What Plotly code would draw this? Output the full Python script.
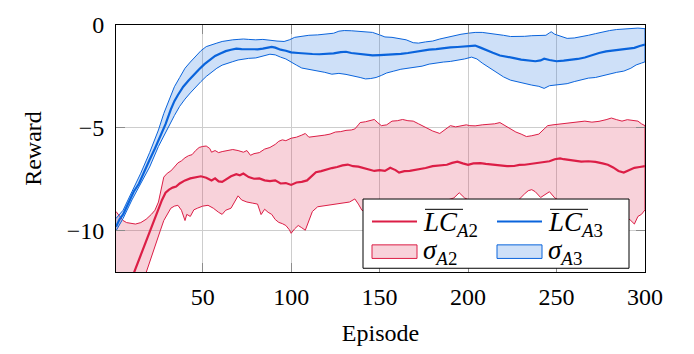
import plotly.graph_objects as go

# ---------------- data ----------------
a2_mean_x = [1,5,9,12,15,18,21,24,27,29,31,33,35,37,40,43,46,49,52,55,57,59,61,63,66,69,71,73,76,79,82,85,88,91,94,97,100,103,106,109,112,114,117,120,123,126,129,132,135,138,141,144,147,150,153,156,159,161,164,167,170,173,176,180,184,188,191,194,197,200,203,207,210,214,218,222,226,229,232,236,240,243,246,249,252,254,257,260,264,268,272,276,279,282,285,288,291,294,297,300]
a2_mean_y = [-14.3,-13.4,-12.5,-11.8,-11.1,-10.5,-9.8,-9.1,-8.5,-8.15,-8.0,-7.9,-7.85,-7.7,-7.55,-7.45,-7.4,-7.35,-7.42,-7.55,-7.45,-7.6,-7.62,-7.5,-7.35,-7.25,-7.3,-7.22,-7.39,-7.47,-7.45,-7.55,-7.58,-7.55,-7.7,-7.68,-7.77,-7.65,-7.62,-7.55,-7.3,-7.15,-7.1,-7.02,-6.95,-6.9,-6.82,-6.78,-6.86,-6.88,-6.94,-7.0,-7.09,-7.05,-7.09,-6.94,-7.05,-7.17,-7.1,-7.09,-7.05,-7.02,-6.95,-6.86,-6.82,-6.79,-6.7,-6.64,-6.72,-6.79,-6.72,-6.71,-6.75,-6.79,-6.82,-6.86,-6.85,-6.8,-6.79,-6.75,-6.71,-6.68,-6.62,-6.52,-6.48,-6.52,-6.56,-6.6,-6.64,-6.62,-6.65,-6.72,-6.79,-6.92,-7.09,-7.17,-7.05,-6.94,-6.9,-6.86]

a2_up_x = [1,3,5,7,9,12,15,18,21,23,25,26,27,28,30,32,34,36,38,40,42,44,46,48,50,52,54,55,57,59,61,64,67,70,73,75,77,79,82,85,88,91,93,95,97,100,103,106,108,110,113,116,119,122,125,128,131,134,136,138,139,142,144,147,149,151,154,157,160,163,166,169,172,176,180,184,187,190,193,196,199,201,204,208,212,215,218,221,224,227,230,233,236,240,243,245,248,251,255,259,263,266,270,274,278,281,284,287,290,293,296,298,300]
a2_up_y = [-9.06,-9.3,-9.5,-9.6,-9.62,-9.67,-9.6,-9.44,-9.2,-9.0,-8.6,-8.15,-7.7,-7.39,-7.2,-7.09,-6.9,-6.7,-6.6,-6.45,-6.35,-6.3,-6.1,-5.95,-5.9,-5.88,-6.0,-6.18,-6.1,-6.2,-6.15,-6.1,-6.05,-6.1,-6.18,-6.1,-6.33,-6.25,-6.2,-6.03,-5.95,-5.8,-5.65,-5.58,-5.62,-5.5,-5.45,-5.35,-5.27,-5.45,-5.42,-5.4,-5.35,-5.3,-5.2,-5.18,-5.12,-5.1,-5.05,-4.85,-4.74,-4.7,-4.67,-4.59,-4.75,-4.89,-4.85,-4.67,-4.65,-4.59,-4.65,-4.67,-4.8,-4.97,-5.15,-5.27,-5.1,-4.89,-4.95,-4.89,-4.85,-4.89,-4.9,-4.85,-4.82,-4.8,-4.74,-4.9,-5.05,-5.2,-5.3,-5.42,-5.38,-5.3,-5.05,-4.89,-4.85,-4.82,-4.78,-4.74,-4.7,-4.67,-4.72,-4.68,-4.6,-4.52,-4.6,-4.67,-4.6,-4.62,-4.67,-4.8,-4.89]

a2_lo_x = [1,10,15,18,20,22,24,26,28,30,32,34,36,38,40,41,43,45,47,50,53,56,59,61,63,66,68,70,72,75,78,81,83,85,87,89,91,93,95,97,99,100,102,104,106,108,110,112,115,118,121,124,127,130,133,136,138,140,145,155,165,175,185,192,195,198,205,215,225,232,234,236,238,241,244,246,249,253,260,270,280,287,290,292,294,296,298,300]
a2_lo_y = [-14.0,-13.5,-12.8,-12.1,-11.6,-11.0,-10.5,-10.0,-9.5,-9.2,-8.9,-8.8,-8.76,-9.0,-9.5,-9.2,-9.3,-8.98,-8.9,-8.8,-8.76,-8.9,-9.1,-9.2,-9.0,-8.9,-8.6,-8.3,-8.5,-8.6,-8.65,-8.7,-9.21,-8.95,-9.1,-9.2,-9.45,-9.59,-9.65,-9.74,-9.95,-10.12,-9.9,-9.74,-9.85,-9.97,-9.5,-9.06,-8.83,-8.8,-8.76,-8.72,-8.68,-8.64,-8.6,-8.45,-8.7,-9.0,-9.2,-9.1,-8.9,-8.8,-8.6,-8.4,-8.15,-8.4,-8.7,-9.0,-8.8,-8.2,-8.05,-8.0,-8.1,-8.38,-8.2,-8.1,-8.4,-8.6,-8.8,-9.0,-9.2,-9.3,-9.36,-9.5,-9.67,-9.3,-9.2,-8.98]

a3_mean_x = [1,3,5,8,11,14,17,20,23,26,29,32,34,36,39,42,45,48,51,54,57,60,63,66,69,72,75,78,81,84,87,89,91,94,97,100,104,108,112,116,120,124,128,131,134,138,142,146,150,154,158,162,166,170,174,178,182,186,190,194,198,201,204,207,210,214,218,222,226,230,234,238,241,243,246,250,254,258,262,266,270,274,278,282,286,290,294,297,300]
a3_mean_y = [-9.8,-9.44,-9.2,-8.68,-8.1,-7.7,-7.1,-6.55,-6.0,-5.4,-4.82,-4.1,-3.7,-3.4,-3.0,-2.7,-2.4,-2.15,-1.9,-1.7,-1.5,-1.38,-1.27,-1.2,-1.15,-1.17,-1.18,-1.16,-1.18,-1.15,-1.1,-1.06,-1.1,-1.2,-1.25,-1.33,-1.36,-1.4,-1.41,-1.42,-1.41,-1.38,-1.32,-1.3,-1.36,-1.41,-1.46,-1.48,-1.46,-1.45,-1.42,-1.4,-1.36,-1.3,-1.25,-1.2,-1.17,-1.12,-1.09,-1.07,-1.03,-1.0,-1.0,-1.1,-1.22,-1.35,-1.48,-1.56,-1.61,-1.68,-1.73,-1.76,-1.72,-1.64,-1.7,-1.76,-1.73,-1.7,-1.65,-1.58,-1.46,-1.36,-1.28,-1.24,-1.19,-1.15,-1.11,-1.02,-0.95]

a3_up_x = [1,5,10,15,20,25,28,31,34,37,40,43,46,49,52,55,58,61,64,67,70,73,76,80,84,88,92,96,99,102,106,110,115,120,124,127,130,134,138,142,146,150,153,157,161,165,169,172,176,180,184,188,192,196,200,204,208,212,216,220,224,228,232,236,240,244,246,247,249,252,256,260,264,268,272,276,280,284,288,292,296,300]
a3_up_y = [-9.4,-9.0,-8.1,-7.2,-6.2,-5.1,-4.3,-3.6,-3.0,-2.55,-2.1,-1.8,-1.5,-1.25,-1.05,-0.95,-0.88,-0.8,-0.75,-0.72,-0.7,-0.68,-0.7,-0.72,-0.7,-0.75,-0.78,-0.8,-0.72,-0.6,-0.55,-0.5,-0.48,-0.44,-0.4,-0.3,-0.27,-0.28,-0.3,-0.33,-0.36,-0.48,-0.58,-0.6,-0.65,-0.72,-0.86,-0.88,-0.82,-0.78,-0.68,-0.6,-0.52,-0.45,-0.4,-0.36,-0.36,-0.4,-0.44,-0.5,-0.56,-0.57,-0.55,-0.52,-0.5,-0.5,-0.38,-0.33,-0.45,-0.55,-0.65,-0.63,-0.58,-0.5,-0.42,-0.33,-0.27,-0.22,-0.2,-0.16,-0.15,-0.18]

a3_lo_x = [1,5,10,15,20,25,28,31,34,37,40,43,46,49,52,55,58,61,64,67,70,73,76,80,84,88,91,94,97,100,103,106,110,115,119,123,127,131,135,139,142,145,148,151,154,158,162,166,170,174,178,182,186,190,194,198,202,205,208,212,216,220,224,228,232,236,240,243,246,249,252,256,260,264,268,272,276,280,284,288,292,295,298,300]
a3_lo_y = [-10.0,-9.4,-8.5,-7.7,-6.9,-5.9,-5.4,-4.9,-4.4,-3.95,-3.6,-3.3,-3.0,-2.75,-2.5,-2.3,-2.1,-1.95,-1.85,-1.78,-1.7,-1.65,-1.62,-1.6,-1.5,-1.42,-1.45,-1.56,-1.65,-1.79,-1.95,-2.09,-2.18,-2.24,-2.3,-2.39,-2.35,-2.4,-2.47,-2.55,-2.62,-2.6,-2.55,-2.45,-2.33,-2.24,-2.15,-2.08,-2.04,-2.0,-1.9,-1.84,-1.8,-1.77,-1.72,-1.65,-1.56,-1.65,-1.85,-2.05,-2.3,-2.52,-2.68,-2.77,-2.85,-2.92,-2.98,-3.08,-2.95,-2.92,-2.9,-2.85,-2.75,-2.65,-2.58,-2.55,-2.48,-2.39,-2.3,-2.24,-2.1,-1.94,-1.85,-1.79]

x_ticks = [50, 100, 150, 200, 250, 300]
y_ticks = [-10, -5, 0]
y_ticktext = ["\u221210", "\u22125", "0"]

# ---------------- style ----------------
RED = "rgb(220,30,70)"
RED_FILL = "rgba(220,30,70,0.2)"
BLUE = "rgb(10,100,220)"
BLUE_FILL = "rgba(10,100,220,0.2)"
FONT = "'Liberation Serif', 'Times New Roman', 'DejaVu Serif', serif"

W, H = 694, 354
L, R, T, B = 116, 49, 12, 78
PW, PH = W - L - R, H - T - B

def px(x):
    return (x - L) / PW

def py(y):
    return (H - B - y) / PH

fig = go.Figure()

def band(xu, yu, xl, yl, line_c, fill_c):
    fig.add_trace(go.Scatter(
        x=xu + xl[::-1], y=yu + yl[::-1], mode="lines", fill="toself",
        fillcolor=fill_c, line=dict(color=line_c, width=1),
        showlegend=False, hoverinfo="skip"))

band(a2_up_x, a2_up_y, a2_lo_x, a2_lo_y, RED, RED_FILL)
fig.add_trace(go.Scatter(x=a2_mean_x, y=a2_mean_y, mode="lines",
                         line=dict(color=RED, width=2.2), showlegend=False))
band(a3_up_x, a3_up_y, a3_lo_x, a3_lo_y, BLUE, BLUE_FILL)
fig.add_trace(go.Scatter(x=a3_mean_x, y=a3_mean_y, mode="lines",
                         line=dict(color=BLUE, width=2.2), showlegend=False))

axis_common = dict(showline=True, linecolor="black", linewidth=1, mirror="allticks",
                   ticks="inside", ticklen=9, tickcolor="rgb(140,140,140)", tickwidth=1.2,
                   showgrid=True, gridcolor="rgb(205,205,205)", gridwidth=1, zeroline=False,
                   tickfont=dict(family=FONT, size=24, color="black"))

fig.update_xaxes(range=[1, 300], tickvals=x_ticks, ticklabelstandoff=3,
                 title=dict(text="Episode", font=dict(family=FONT, size=24, color="black"),
                            standoff=15), **axis_common)
fig.update_yaxes(range=[-12, 0], tickvals=y_ticks, ticktext=y_ticktext, ticklabelstandoff=6,
                 title=dict(text="Reward", font=dict(family=FONT, size=24, color="black"),
                            standoff=18), **axis_common)

# ---------------- legend (drawn in paper space) ----------------
shapes = []
shapes.append(dict(type="rect", xref="paper", yref="paper", x0=px(363), x1=px(629),
                   y0=py(272), y1=py(198), fillcolor="white", line=dict(color="black", width=1)))
shapes.append(dict(type="line", xref="paper", yref="paper", x0=px(372), x1=px(417),
                   y0=py(222), y1=py(222), line=dict(color=RED, width=2.2)))
shapes.append(dict(type="line", xref="paper", yref="paper", x0=px(497), x1=px(542),
                   y0=py(222), y1=py(222), line=dict(color=BLUE, width=2.2)))
shapes.append(dict(type="rect", xref="paper", yref="paper", x0=px(372), x1=px(417),
                   y0=py(261.5), y1=py(247), fillcolor=RED_FILL, line=dict(color=RED, width=1)))
shapes.append(dict(type="rect", xref="paper", yref="paper", x0=px(497), x1=px(542),
                   y0=py(261.5), y1=py(247), fillcolor=BLUE_FILL, line=dict(color=BLUE, width=1)))
shapes.append(dict(type="line", xref="paper", yref="paper", x0=px(425), x1=px(463),
                   y0=py(209), y1=py(209), line=dict(color="black", width=1)))
shapes.append(dict(type="line", xref="paper", yref="paper", x0=px(550), x1=px(588),
                   y0=py(209), y1=py(209), line=dict(color="black", width=1)))

ann = []
def label(x, y, text):
    ann.append(dict(xref="paper", yref="paper", x=px(x), y=py(y), xanchor="left",
                    yanchor="middle", showarrow=False, text=text,
                    font=dict(family=FONT, size=27, color="black")))

label(421, 225, "<i>LC</i><sub><i>A</i>2</sub>")
label(546, 225, "<i>LC</i><sub><i>A</i>3</sub>")
label(421, 255, "<i>\u03c3</i><sub><i>A</i>2</sub>")
label(546, 255, "<i>\u03c3</i><sub><i>A</i>3</sub>")

fig.update_layout(width=W, height=H, margin=dict(l=L, r=R, t=T, b=B),
                  paper_bgcolor="white", plot_bgcolor="white",
                  shapes=shapes, annotations=ann, showlegend=False,
                  font=dict(family=FONT))

fig.write_html("out.html")
